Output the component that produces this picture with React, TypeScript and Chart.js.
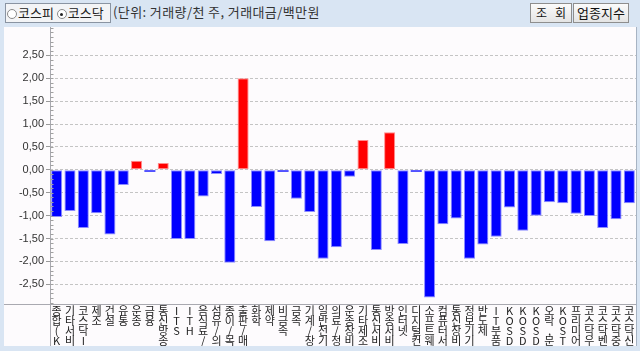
import React, { useEffect, useRef } from "react";
import { Chart, registerables } from "chart.js";
Chart.register(...registerables);

const categories = [
  "종합(K", "기타서비", "코스닥I", "제조", "건설", "유통", "운송", "금융", "통신방송", "ITS",
  "ITH", "음식료/", "섬유/의", "종이/목", "출판/매", "화학", "제약", "비금속", "금속", "기계/장",
  "일반전기", "의료/정", "운송장비", "기타제조", "통신서비", "방송서비", "인터넷", "디지털컨", "소프트웨", "컴퓨터서",
  "통신장비", "정보기기", "반도체", "IT부품", "KOSD", "KOSD", "KOSD", "오락,문", "KOST", "프리미어",
  "코스닥우", "코스닥벤", "코스닥중", "코스닥신",
];

const changes = [
  -1.03, -0.9, -1.27, -0.95, -1.41, -0.33, 0.2, -0.04, 0.15, -1.51,
  -1.51, -0.58, -0.09, -2.03, 2.0, -0.81, -1.56, -0.04, -0.63, -0.92,
  -1.94, -1.69, -0.15, 0.65, -1.75, 0.82, -1.62, -0.04, -2.79, -1.19,
  -1.06, -1.94, -1.63, -1.46, -0.82, -1.33, -1.0, -0.71, -0.73, -0.96,
  -1.01, -1.27, -1.08, -0.73,
];

const yTickValues = [2.5, 2.0, 1.5, 1.0, 0.5, 0.0, -0.5, -1.0, -1.5, -2.0, -2.5];
const yMin = -2.93;
const yMax = 3.12;
const minorStep = 0.1;

const frameLines = {
  id: "frameLines",
  afterDraw(chart: any) {
    const { ctx, chartArea } = chart;
    const ys = chart.scales.y;
    ctx.save();
    ctx.strokeStyle = "#a9a9b0";
    ctx.lineWidth = 1;
    ctx.beginPath();
    const lx = Math.round(chartArea.left) + 0.5;
    ctx.moveTo(lx, 0);
    ctx.lineTo(lx, chart.height);
    const by = Math.round(chartArea.bottom) + 0.5;
    ctx.moveTo(0, by);
    ctx.lineTo(chart.width, by);
    ctx.stroke();
    ctx.strokeStyle = "#a0a0a0";
    ctx.beginPath();
    const start = Math.ceil(yMin / minorStep);
    const end = Math.floor(yMax / minorStep);
    for (let i = start; i <= end; i++) {
      const v = i * minorStep;
      const py = Math.round(ys.getPixelForValue(v)) + 0.5;
      ctx.moveTo(lx, py);
      ctx.lineTo(lx + 3, py);
    }
    ctx.stroke();
    ctx.restore();
  },
};

function ChartPanel() {
  const ref = useRef<HTMLCanvasElement | null>(null);
  useEffect(() => {
    const chart = new Chart(ref.current as HTMLCanvasElement, {
      type: "bar",
      data: {
        labels: categories,
        datasets: [
          {
            data: changes,
            backgroundColor: (c: any) => ((c.raw ?? 0) > 0 ? "#ff0000" : "#0000ff"),
            borderColor: (c: any) => ((c.raw ?? 0) > 0 ? "#ff8c8c" : "#8c8cff"),
            borderWidth: (c: any) => (Math.abs(c.raw ?? 0) < 0.08 ? 0 : 1),
            borderSkipped: false,
            barPercentage: 0.83,
            categoryPercentage: 1,
          },
        ],
      },
      options: {
        animation: false,
        responsive: false,
        devicePixelRatio: 1,
        layout: { padding: 0 },
        plugins: { legend: { display: false }, tooltip: { enabled: false } },
        scales: {
          x: {
            grid: { display: false, drawTicks: false },
            border: { display: false },
            afterFit: (s: any) => {
              s.height = 42;
              s.paddingLeft = 0;
              s.paddingRight = 0;
            },
            ticks: {
              autoSkip: false,
              maxRotation: 0,
              minRotation: 0,
              padding: 2,
              color: "#222",
              font: { family: "'Noto Sans CJK KR', sans-serif", size: 11, lineHeight: "10px" },
              callback: (_v: any, i: number) => Array.from(categories[i]),
            },
          },
          y: {
            min: yMin,
            max: yMax,
            afterBuildTicks: (s: any) => {
              s.ticks = yTickValues.map((v) => ({ value: v }));
            },
            afterFit: (s: any) => {
              s.width = 46;
              s.paddingTop = 0;
              s.paddingBottom = 0;
            },
            grid: {
              color: "#c4c4c4",
              lineWidth: 1,
              drawTicks: true,
              tickLength: 4,
              tickColor: "#9a9a9a",
            },
            border: { display: false, dash: [3, 2] },
            ticks: {
              padding: 2,
              color: "#333",
              font: { family: "'Liberation Sans', sans-serif", size: 11 },
              callback: (v: any) => Number(v).toFixed(2).replace(".", ","),
            },
          },
        },
      },
      plugins: [frameLines],
    } as any);
    return () => chart.destroy();
  }, []);
  return <canvas ref={ref} width={632} height={319} style={{ display: "block" }} />;
}

function Radio({ on }: { on: boolean }) {
  return (
    <span
      style={{
        display: "inline-block",
        width: 8,
        height: 8,
        borderRadius: "50%",
        border: "1px solid #8a8a8a",
        background: "#fff",
        position: "relative",
        marginRight: 1,
        verticalAlign: "middle",
      }}
    >
      {on && (
        <span
          style={{
            position: "absolute",
            left: 2.5,
            top: 2.5,
            width: 3,
            height: 3,
            borderRadius: "50%",
            background: "#222",
          }}
        />
      )}
    </span>
  );
}

const btn: React.CSSProperties = {
  position: "absolute",
  top: 3,
  height: 18,
  border: "1px solid #8e8e8e",
  background: "linear-gradient(#fbfbfb, #e4e4e4)",
  fontSize: 12,
  lineHeight: "18px",
  textAlign: "center",
  color: "#111",
  boxSizing: "content-box",
};

export default function App() {
  useEffect(() => {
    document.body.style.margin = "0";
  }, []);
  return (
    <div
      style={{
        width: 640,
        height: 351,
        position: "relative",
        background: "#d9e5f3",
        overflow: "hidden",
        fontFamily: "'Noto Sans CJK KR', sans-serif",
      }}
    >
      <div
        style={{
          position: "absolute",
          left: 5,
          top: 3,
          width: 103,
          height: 18,
          border: "1px solid #8a94a2",
          background: "#f3f4f6",
          fontSize: 13,
          lineHeight: "18px",
          color: "#222",
          paddingLeft: 1,
          whiteSpace: "nowrap",
          overflow: "hidden",
        }}
      >
        <Radio on={false} />코스피 <Radio on={true} />코스닥
      </div>
      <div
        style={{
          position: "absolute",
          left: 113,
          top: 2,
          fontSize: 13,
          lineHeight: "20px",
          color: "#333",
          whiteSpace: "nowrap",
          letterSpacing: 0.4,
        }}
      >
        (단위: 거래량/천 주, 거래대금/백만원
      </div>
      <div style={{ ...btn, left: 530, width: 40 }}>조&nbsp;&nbsp;&nbsp;회</div>
      <div style={{ ...btn, left: 573, width: 54, fontSize: 13 }}>업종지수</div>
      <div
        style={{
          position: "absolute",
          left: 4,
          top: 27,
          width: 632,
          height: 319,
          background: "#fdfbfd",
          borderRight: "1px solid #a7b3c3",
        }}
      >
        <ChartPanel />
      </div>
    </div>
  );
}
